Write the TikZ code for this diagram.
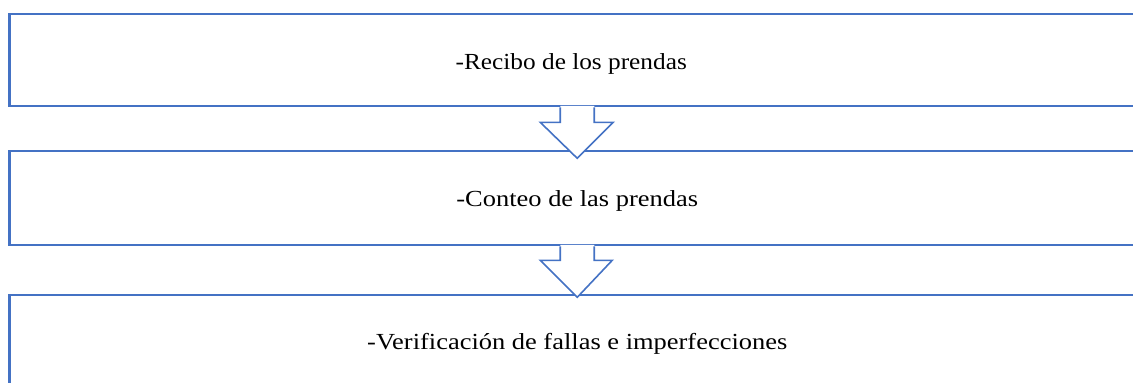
\documentclass[tikz,border=0pt]{standalone}
\usepackage{fontspec}
\setmainfont{Liberation Serif}
\usetikzlibrary{calc}
\definecolor{ofblue}{RGB}{68,114,196}
\begin{document}
\begin{tikzpicture}[x=1pt,y=-1pt,
  boxstyle/.style={draw=ofblue,line width=2.6pt,fill=white,rectangle,inner sep=0pt,minimum width=1135.5pt},
  lbl/.style={anchor=base,inner sep=0pt,font=\fontsize{23}{27}\selectfont},
  arrowline/.style={draw=ofblue,line width=1.6pt,line join=miter,line cap=butt}]
\useasboundingbox (0,0) rectangle (1133,383);
\clip (0,0) rectangle (1133,383);
\node[boxstyle,minimum height=92pt] (box1) at (577.25,60) {};
\node[boxstyle,minimum height=94pt] (box2) at (577.25,198) {};
\node[boxstyle,minimum height=94pt] (box3) at (577.25,342) {};
\node[lbl] (t1) at ([xshift=-6pt,yshift=-9pt]box1.center) {\scalebox{1.1}[1]{-Recibo de los prendas}};
\node[lbl] (t2) at ([yshift=-8pt]box2.center) {\scalebox{1.15}[1]{-Conteo de las prendas}};
\node[lbl] (t3) at ([yshift=-7pt]box3.center) {\scalebox{1.15}[1]{-Verificación de fallas e imperfecciones}};
% arrow 1
\coordinate (a1) at (box1.south);
\fill[white] ($(a1)+(-17,-1.5)$) -- ($(a1)+(-17,15)$) -- ($(a1)+(-37,15)$) -- ($(a1)+(0,51)$) -- ($(a1)+(36,15)$) -- ($(a1)+(17,15)$) -- ($(a1)+(17,-1.5)$) -- cycle;
\draw[arrowline] ($(a1)+(-17,0)$) -- ($(a1)+(-17,15)$) -- ($(a1)+(-37,15)$) -- ($(a1)+(0,51)$) -- ($(a1)+(36,15)$) -- ($(a1)+(17,15)$) -- ($(a1)+(17,0)$);
% arrow 2
\coordinate (a2) at (box2.south);
\fill[white] ($(a2)+(-17,-1.5)$) -- ($(a2)+(-17,14)$) -- ($(a2)+(-37,14)$) -- ($(a2)+(0,51)$) -- ($(a2)+(35,14)$) -- ($(a2)+(17,14)$) -- ($(a2)+(17,-1.5)$) -- cycle;
\draw[arrowline] ($(a2)+(-17,0)$) -- ($(a2)+(-17,14)$) -- ($(a2)+(-37,14)$) -- ($(a2)+(0,51)$) -- ($(a2)+(35,14)$) -- ($(a2)+(17,14)$) -- ($(a2)+(17,0)$);
\end{tikzpicture}
\end{document}
